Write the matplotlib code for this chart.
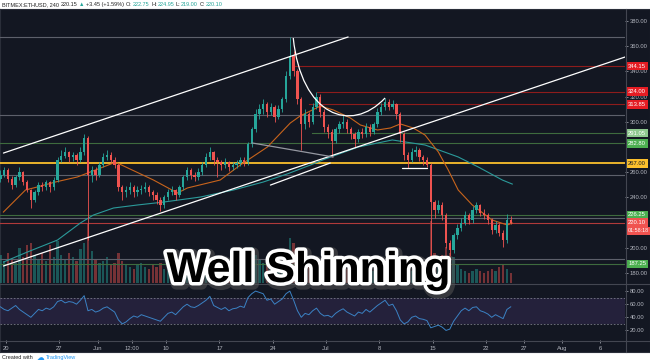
import numpy as np
import matplotlib
matplotlib.use("Agg")
import matplotlib.pyplot as plt
import matplotlib.patheffects as pe
from matplotlib.path import Path
from matplotlib.patches import PathPatch
from matplotlib.lines import Line2D
import matplotlib.transforms as mtrans

# ---- data (12h candles, index 0 = May 19 12:00) ----
first_open = 255
closes = [258, 262, 255, 250, 256, 260, 252, 246, 238, 244,
          250, 248, 252, 248, 254, 270, 273, 276, 272, 274,
          270, 276, 287, 258, 262, 258, 266, 272, 274, 270,
          266, 248, 244, 246, 248, 244, 246, 247, 248, 244,
          242, 238, 234, 240, 244, 246, 242, 248, 256, 262,
          258, 256, 260, 266, 272, 276, 270, 268, 266, 268,
          264, 266, 267, 270, 268, 282, 294, 306, 310, 314,
          308, 312, 304, 310, 318, 336, 352, 340, 318, 298,
          306, 300, 312, 320, 308, 296, 292, 285, 294, 298,
          300, 294, 290, 286, 292, 290, 296, 292, 298, 308,
          312, 316, 312, 314, 306, 290, 274, 270, 276, 278,
          272, 270, 266, 236, 230, 234, 226, 204, 198, 210,
          216, 220, 226, 222, 230, 234, 228, 226, 222, 214,
          218, 212, 206, 222, 220.1]
highs = [262, 264, 263, 257, 258, 264, 261, 254, 247, 246,
         252, 252, 254, 253, 256, 272, 278, 280, 277, 276,
         275, 280, 290, 289, 265, 264, 268, 275, 278, 276,
         272, 267, 250, 249, 252, 250, 249, 250, 252, 250,
         246, 244, 240, 242, 247, 249, 247, 250, 258, 264,
         263, 260, 263, 268, 275, 280, 277, 272, 270, 271,
         269, 268, 270, 272, 272, 284, 296, 310, 314, 318,
         316, 315, 313, 313, 320, 340, 367, 356, 342, 320,
         310, 308, 315, 324, 322, 310, 298, 294, 296, 301,
         305, 302, 296, 292, 294, 295, 299, 298, 300, 311,
         315, 319, 318, 317, 315, 308, 292, 276, 279, 281,
         279, 274, 272, 267, 238, 238, 236, 228, 206, 212,
         219, 224, 229, 228, 233, 236, 235, 231, 228, 224,
         221, 220, 214, 227, 224.95]
lows = [252, 256, 252, 247, 248, 254, 250, 244, 232, 236,
        242, 245, 246, 244, 246, 252, 268, 271, 268, 269,
        266, 268, 274, 206, 252, 254, 256, 264, 270, 267,
        263, 245, 238, 240, 243, 240, 241, 243, 244, 241,
        238, 235, 229, 232, 238, 242, 238, 240, 246, 254,
        255, 253, 254, 258, 264, 270, 266, 256, 262, 263,
        261, 262, 263, 265, 265, 266, 280, 292, 302, 306,
        304, 305, 300, 302, 308, 316, 334, 336, 314, 278,
        294, 296, 298, 310, 304, 292, 287, 272, 283, 291,
        295, 291, 286, 280, 284, 287, 288, 289, 290, 296,
        305, 309, 309, 310, 302, 284, 270, 263, 268, 273,
        269, 266, 264, 187.25, 224, 228, 222, 200, 193, 196,
        207, 213, 218, 219, 220, 228, 225, 223, 219, 211,
        212, 209, 201, 204, 219]
volume = [28, 22, 30, 25, 20, 35, 26, 38, 40, 28, 24, 30, 22, 38, 26,
          42, 28, 24, 30, 26, 22, 34, 40, 60, 32, 24, 20, 22, 26, 18, 20,
          30, 22, 18, 16, 14, 18, 20, 16, 14, 18, 16, 20, 14, 12, 16, 18,
          16, 20, 24, 18, 14, 16, 20, 22, 24, 18, 16, 14, 12, 14, 16, 18, 14, 16,
          30, 36, 28, 24, 20, 18, 16, 18, 20, 22, 30, 45, 40, 35, 28,
          22, 18, 20, 22, 18, 16, 14, 18, 12, 10, 12, 14, 10, 12, 10, 12, 10,
          14, 12, 16, 14, 12, 10, 12, 16, 24, 20, 16, 12, 14, 10, 12, 14,
          62, 30, 24, 28, 36, 30, 26, 18, 14, 12, 10, 12, 14, 12, 10, 12, 14,
          12, 16, 18, 14, 10]
rsi = [56, 52, 50, 54, 58, 52, 48, 44, 40, 46, 52, 50, 54, 52, 56,
       64, 66, 62, 64, 63, 60, 66, 73, 50, 52, 48, 50, 54, 56, 52, 48,
       36, 30, 33, 38, 42, 40, 44, 42, 40, 38, 36, 34, 40, 46, 48, 44,
       50, 56, 60, 56, 55, 58, 62, 66, 72, 58, 55, 52, 55, 50, 53, 54, 57, 55,
       70, 76, 80, 78, 76, 66, 68, 60, 64, 68, 76, 80, 66, 50, 40,
       46, 44, 50, 54, 46, 42, 43, 40, 46, 50, 53, 48, 45, 42, 48, 46, 52,
       48, 53, 58, 62, 66, 58, 60, 50, 36, 30, 33, 40, 42, 38, 37, 35,
       24, 26, 28, 25, 20, 22, 34, 42, 50, 54, 50, 55, 56, 50, 48, 45, 40,
       44, 41, 38, 52, 56]

orange_i = [0.8, 6.6, 9.7, 14.4, 20.2, 29.7, 30.7, 40.2, 46.5, 49.1, 57.7, 63, 70.1, 76.1, 78.7,
            84, 87.4, 91.9, 94.5, 99, 102.4, 105, 108.4, 111.5, 115, 117.6, 120.2, 123.9, 129.1,
            133.1, 134.4]
orange_p = [228.4, 245.9, 248.3, 252.2, 256.2, 267.3, 267.3, 253.8, 243.5, 247.5, 253.8, 265.7,
            280, 299, 304.6, 312.5, 309.4, 303, 297.5, 293.5, 295.1, 298.3, 295.1, 289.5, 276,
            261.7, 245.9, 234, 222.1, 218.1, 219.7]
teal_i = [0.8, 7.1, 15, 21, 24.4, 29.7, 36, 42.8, 52.5, 61.2, 69, 75.3, 81.4, 85.3, 94,
          102.9, 106.3, 111.5, 120.2, 125.5, 131.8, 134.4]
teal_p = [188.7, 196.7, 206.2, 219.7, 226, 231.6, 234, 236.3, 240.3, 245.9, 252.2, 258.6,
          265.7, 270.5, 280, 285.6, 284, 281.6, 272.1, 264.1, 253.8, 250.6]

# drawn trend lines (candle index, price)
trend_lines = [
    ([0.8, 91.3], [275.2, 367.3], "white"),
    ([0.8, 164], [185.6, 351.4], "white"),
    ([70.9, 86.6], [249.8, 267.3], "white"),
    ([66.1, 87.4], [283.2, 272.1], "#9598a1"),
    ([105.4, 112], [263.3, 263.3], "white"),
]
arc_i = [76.9, 79, 92, 101]
arc_p = [366.5, 305, 290, 318.9]

level_prices = [367, 344.15, 324.0, 313.85, 305.5, 291.05, 282.8, 267.0, 258, 226.25, 223.5, 220.1, 191, 187.25]
level_start = [0, 76.9, 83.2, 81, 0, 81.9, 0, 0, 0, 0, 0, 0, 0, 0]
level_colors = ["#5d606b", "#8e1c1c", "#8e1c1c", "#8e1c1c", "#5d606b", "#3e6b3e", "#3e6b3e",
                "#fbc02d", "#5d606b", "#3e6b3e", "#5d606b", "#b03a3a", "#5d606b", "#3e6b3e"]

box_prices = [344.15, 324.00, 313.85, 291.05, 282.80, 267.00, 226.25, 220.10, 187.25]
box_colors = ["#e51c23", "#e51c23", "#e51c23", "#8fc98f", "#4caf50", "#fbc02d", "#4caf50", "#f05350", "#4caf50"]
countdown = "01:58:18"

price_ticks = [180, 200, 240, 260, 300, 320, 340, 360, 380]   # 220 / 280 hidden by the boxes
tick_days = [0, 7, 12, 16.5, 21, 28, 35, 42, 49, 56, 63, 68, 73, 78]
tick_labels = ["20", "27", "Jun", "12:00", "10", "17", "24", "Jul", "8", "15", "22", "27", "Aug", "6"]

# ---- figure ----
W, H = 650, 364
BG = "#131722"
AXC = "#b2b5be"
FONT = "Liberation Sans"
fig = plt.figure(figsize=(6.5, 3.64), dpi=100, facecolor="white")


def rect(x0, y0, x1, y1):
    return [x0 / W, 1 - y1 / H, (x1 - x0) / W, (y1 - y0) / H]


bg = fig.add_axes(rect(0, 9, 650, 352), label="bg")
bg.set_facecolor(BG)
bg.set_xticks([])
bg.set_yticks([])
for s in bg.spines.values():
    s.set_color("#2a2e39")
    s.set_linewidth(0.8)

xlim = (-0.1, 164)
idx = np.arange(len(closes))
c = np.array(closes, dtype=float)
o = np.array([first_open] + closes[:-1], dtype=float)
up = c >= o
cols = np.where(up, "#26a69a", "#ef5350")

axv = fig.add_axes(rect(0, 9, 625, 283), label="vol")
axv.set_axis_off()
axv.bar(idx, volume, width=0.62, color=cols, alpha=0.45, lw=0)
axv.set_xlim(xlim)
axv.set_ylim(0, max(volume) * 4.4)

ax = fig.add_axes(rect(0, 9, 625, 283), label="main")
ax.patch.set_alpha(0)
ax.set_xlim(xlim)
ax.set_ylim(172.1, 389.5)
for s in ax.spines.values():
    s.set_visible(False)

for p, st, col in zip(level_prices, level_start, level_colors):
    lw = 1.3 if col == "#fbc02d" else 0.8
    ax.plot([st, xlim[1]], [p, p], color=col, lw=lw, zorder=1)

ax.plot(teal_i, teal_p, color="#2b9a9a", lw=0.8, zorder=2)
ax.plot(orange_i, orange_p, color="#c8641c", lw=0.8, zorder=2)

ax.vlines(idx, lows, highs, colors=cols, lw=0.6, zorder=3)
body = np.maximum(np.abs(c - o), 0.4)
ax.bar(idx, body, bottom=np.minimum(o, c), width=0.62, color=cols, lw=0, zorder=3)

for xs, ys, col in trend_lines:
    ax.plot(xs, ys, color=col, lw=0.9, zorder=4, solid_capstyle="round")
arc = Path(list(zip(arc_i, arc_p)), [Path.MOVETO, Path.CURVE4, Path.CURVE4, Path.CURVE4])
ax.add_patch(PathPatch(arc, fc="none", ec="white", lw=0.9, zorder=4))

ax.set_xticks([])
ax.yaxis.tick_right()
ax.set_yticks(price_ticks)
ax.set_yticklabels([f"{v:.2f}" for v in price_ticks], family=FONT)
ax.tick_params(axis="y", colors=AXC, labelsize=4.2, length=2, width=0.5, pad=1.5)

tr = mtrans.blended_transform_factory(ax.transAxes, ax.transData)
for p, col in zip(box_prices, box_colors):
    tc = "#131722" if col == "#fbc02d" else "white"
    ax.text(1.005, p, f"{p:.2f}", transform=tr, ha="left", va="center", fontsize=4.2,
            family=FONT, color=tc, clip_on=False, zorder=6,
            bbox=dict(boxstyle="square,pad=0.3", fc=col, ec="none"))
ax.text(1.004, 213.4, countdown, transform=tr, ha="left", va="center", fontsize=3.9,
        family=FONT, color="white", clip_on=False, zorder=6,
        bbox=dict(boxstyle="square,pad=0.25", fc="#f05350", ec="none"))

# RSI pane
axr = fig.add_axes(rect(0, 284, 625, 340), label="rsi")
axr.patch.set_alpha(0)
axr.set_xlim(xlim)
axr.set_ylim(5.4, 90.8)
for s in axr.spines.values():
    s.set_visible(False)
axr.axhspan(30, 70, color="#7e57c2", alpha=0.16, lw=0)
axr.axhline(70, color="#787b86", lw=0.6, ls=(0, (2, 2)))
axr.axhline(30, color="#787b86", lw=0.6, ls=(0, (2, 2)))
axr.plot(idx, rsi, color="#3b82c4", lw=0.7)
axr.yaxis.tick_right()
axr.set_yticks([20, 40, 60, 80])
axr.set_yticklabels(["20.00", "40.00", "60.00", "80.00"], family=FONT)
axr.tick_params(axis="y", colors=AXC, labelsize=4.2, length=2, width=0.5, pad=1.5)
axr.set_xticks([2 * d + 1.5 for d in tick_days])
axr.set_xticklabels(tick_labels, family=FONT)
axr.tick_params(axis="x", colors=AXC, labelsize=4.2, length=2, width=0.5, pad=2)

# pane separators
for (x0, y0, x1, y1) in [(0, 283.5, 650, 283.5), (0, 340.5, 650, 340.5), (625.5, 9, 625.5, 352)]:
    fig.add_artist(Line2D([x0 / W, x1 / W], [1 - y0 / H, 1 - y1 / H], transform=fig.transFigure,
                          color="#434651", lw=0.8))

# header and footer
renderer = fig.canvas.get_renderer()


def text_row(parts, x, y, size):
    for s, col, gap in parts:
        t = fig.text(x / W, 1 - y / H, s, color=col, fontsize=size, family=FONT,
                     ha="left", va="center")
        x += t.get_window_extent(renderer=renderer).width + gap


green = "#26a69a"
dark = "#222222"
text_row([("BITMEX:ETHUSD, 240", dark, 2), ("220.15", dark, 1.5), ("\u25b2", green, 1.5),
          ("+3.45 (+1.59%)", dark, 2), ("O:", dark, 0.5), ("222.75", green, 2),
          ("H:", dark, 0.5), ("224.95", green, 2), ("L:", dark, 0.5), ("219.00", green, 2),
          ("C:", dark, 0.5), ("220.10", green, 0)], 2, 4.5, 4.0)
fig.text(2 / W, 1 - 357.5 / H, "Created with", color=dark, fontsize=4.0, family=FONT, va="center")
fig.text(37 / W, 1 - 357.5 / H, "\u2601", color="#2196f3", fontsize=5.5, family="DejaVu Sans", va="center")
fig.text(46 / W, 1 - 357.5 / H, "TradingView", color="#2196f3", fontsize=4.0, family=FONT, va="center")

# overlay caption
fig.text(308 / W, 1 - 282 / H, "Well Shinning", ha="center", va="baseline", fontsize=31,
         fontweight="bold", family=FONT, color="black", zorder=20,
         path_effects=[pe.Stroke(linewidth=8, foreground="#555555", alpha=0.55, offset=(1.5, -1.5)),
                       pe.Stroke(linewidth=5, foreground="white"), pe.Normal()])

fig.savefig("out.png", dpi=100, facecolor="white")
